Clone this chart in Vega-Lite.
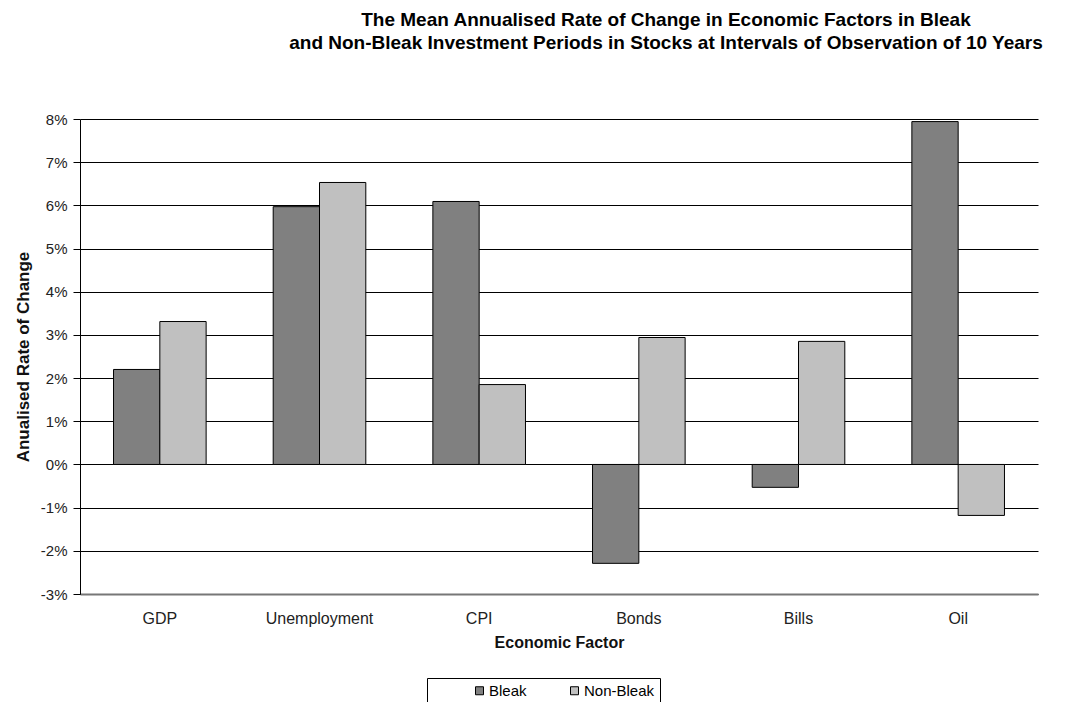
{
  "$schema": "https://vega.github.io/schema/vega-lite/v6.json",
  "autosize": {"type": "none"},
  "width": 958,
  "height": 475,
  "padding": {"left": 80, "top": 119, "right": 39, "bottom": 108},
  "background": "white",
  "title": {
    "text": [
      "The Mean Annualised Rate of Change in Economic Factors in Bleak",
      "and Non-Bleak Investment Periods in Stocks at Intervals of Observation of 10 Years"
    ],
    "font": "Liberation Sans",
    "fontSize": 19,
    "fontWeight": "bold",
    "color": "#000000",
    "anchor": "middle",
    "dx": 107,
    "offset": 59,
    "lineHeight": 23
  },
  "data": {
    "values": [
      {"factor": "GDP", "period": "Bleak", "value": 0.0220},
      {"factor": "GDP", "period": "Non-Bleak", "value": 0.0331},
      {"factor": "Unemployment", "period": "Bleak", "value": 0.0597},
      {"factor": "Unemployment", "period": "Non-Bleak", "value": 0.0653},
      {"factor": "CPI", "period": "Bleak", "value": 0.0609},
      {"factor": "CPI", "period": "Non-Bleak", "value": 0.0185},
      {"factor": "Bonds", "period": "Bleak", "value": -0.0229},
      {"factor": "Bonds", "period": "Non-Bleak", "value": 0.0294},
      {"factor": "Bills", "period": "Bleak", "value": -0.0053},
      {"factor": "Bills", "period": "Non-Bleak", "value": 0.0285},
      {"factor": "Oil", "period": "Bleak", "value": 0.0794},
      {"factor": "Oil", "period": "Non-Bleak", "value": -0.0118}
    ]
  },
  "encoding": {
    "x": {
      "field": "factor",
      "type": "nominal",
      "sort": ["GDP", "Unemployment", "CPI", "Bonds", "Bills", "Oil"],
      "scale": {"paddingInner": 0.42, "paddingOuter": 0.21},
      "title": "Economic Factor",
      "axis": {
        "labelAngle": 0,
        "labelFont": "Liberation Sans",
        "labelFontSize": 16,
        "labelColor": "#222222",
        "labelPadding": 16,
        "ticks": false,
        "domainColor": "#777777",
        "domainWidth": 2,
        "titleFont": "Liberation Sans",
        "titleFontSize": 16,
        "titleFontWeight": "bold",
        "titleColor": "#111111",
        "titlePadding": 8
      }
    }
  },
  "layer": [
    {
      "mark": {"type": "bar", "stroke": "#000000", "strokeWidth": 1},
      "encoding": {
        "xOffset": {"field": "period", "type": "nominal", "sort": ["Bleak", "Non-Bleak"]},
        "y": {
          "field": "value",
          "type": "quantitative",
          "title": "Anualised Rate of Change",
          "scale": {"domain": [-0.03, 0.08], "nice": false, "zero": false},
          "axis": {
            "format": ".0%",
            "labelExpr": "replace(datum.label, '\u2212', '-')",
            "values": [-0.03, -0.02, -0.01, 0, 0.01, 0.02, 0.03, 0.04, 0.05, 0.06, 0.07, 0.08],
            "grid": true,
            "gridColor": "#000000",
            "gridWidth": 1,
            "gridOpacity": 1,
            "domainColor": "#000000",
            "tickColor": "#000000",
            "tickSize": 7,
            "labelFont": "Liberation Sans",
            "labelFontSize": 15,
            "labelColor": "#222222",
            "labelPadding": 6,
            "titleFont": "Liberation Sans",
            "titleFontSize": 17,
            "titleFontWeight": "bold",
            "titleColor": "#111111",
            "titlePadding": 8
          }
        },
        "color": {
          "field": "period",
          "type": "nominal",
          "scale": {"domain": ["Bleak", "Non-Bleak"], "range": ["#808080", "#c0c0c0"]},
          "legend": {
            "title": null,
            "orient": "none",
            "direction": "horizontal",
            "legendX": 347,
            "legendY": 559,
            "padding": 5,
            "symbolType": "square",
            "symbolSize": 64,
            "symbolStrokeColor": "#000000",
            "symbolStrokeWidth": 1,
            "symbolOffset": 40,
            "labelOffset": 2,
            "columnPadding": 0,
            "labelFont": "Liberation Sans",
            "labelFontSize": 15,
            "labelColor": "#000000",
            "strokeColor": "#000000",
            "fillColor": "#ffffff"
          }
        }
      }
    },
    {
      "mark": {"type": "rule", "color": "#000000", "strokeWidth": 1.5},
      "encoding": {"y": {"datum": 0}}
    }
  ],
  "config": {
    "view": {"stroke": null}
  }
}
